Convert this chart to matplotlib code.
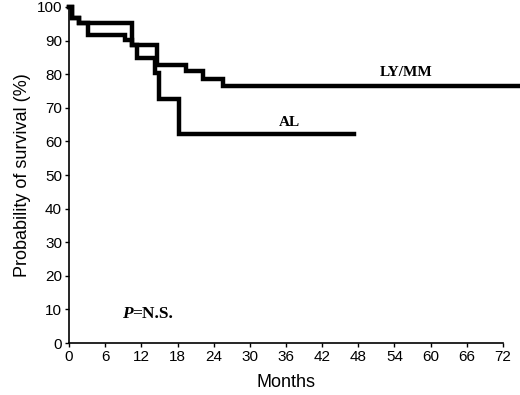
import numpy as np
import matplotlib
matplotlib.use("Agg")
import matplotlib.pyplot as plt

# Kaplan-Meier steps (months, % survival)
ly_t = [0, 0.5, 1.6, 10.4, 14.6, 19.4, 22.2, 25.5, 74.7]
ly_s = [100, 96.8, 95.2, 88.7, 82.6, 81.0, 78.7, 76.4, 76.4]

al_t = [0, 0.5, 1.6, 3.1, 9.3, 10.4, 11.2, 14.3, 14.9, 18.3, 47.3]
al_s = [100, 96.8, 95.2, 91.7, 90.2, 88.7, 84.8, 80.3, 72.6, 62.3, 62.3]

xticks = np.arange(0, 73, 6)
yticks = np.arange(0, 101, 10)

fig = plt.figure(figsize=(5.2, 3.95), dpi=100)
ax = fig.add_axes([0.1327, 0.1316, 0.8346, 0.8507])

ax.step(ly_t, ly_s, where="post", color="black", lw=3.2, clip_on=False,
        solid_joinstyle="miter")
ax.step(al_t, al_s, where="post", color="black", lw=3.2, clip_on=False,
        solid_joinstyle="miter")

ax.set_xlim(0, 72)
ax.set_ylim(0, 100)
ax.set_xticks(xticks)
ax.set_yticks(yticks)
ax.tick_params(direction="out", length=3, width=1, labelsize=11, pad=2)
for lab in ax.get_xticklabels() + ax.get_yticklabels():
    lab.set_family("Liberation Sans")
for s in ["top", "right"]:
    ax.spines[s].set_visible(False)
for s in ["left", "bottom"]:
    ax.spines[s].set_linewidth(1.2)

ax.set_xlabel("Months", family="Liberation Sans", fontsize=13, labelpad=7)
ax.set_ylabel("Probability of survival (%)", family="Liberation Sans",
              fontsize=13, labelpad=4)

ax.text(56, 80.6, "LY/MM", family="Liberation Serif", weight="bold",
        fontsize=11, ha="center", va="center")
ax.text(36.6, 65.5, "AL", family="Liberation Serif", weight="bold",
        fontsize=11, ha="center", va="center")
ax.text(8.8, 8.5, "P", family="Liberation Serif", weight="bold",
        style="italic", fontsize=12.5, va="center", ha="left")
ax.text(10.5, 8.5, "=N.S.", family="Liberation Serif", weight="bold",
        fontsize=12.5, va="center", ha="left")

fig.savefig("out.png", dpi=100)
